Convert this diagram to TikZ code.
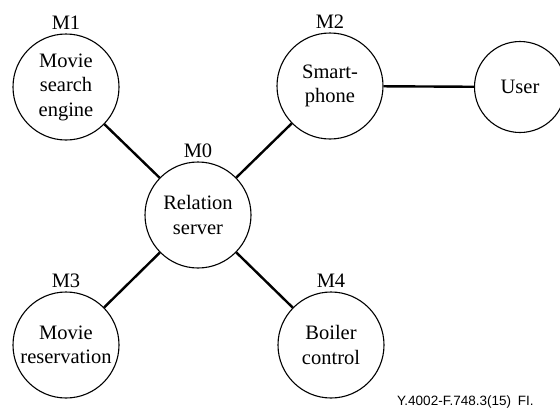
\documentclass[tikz,border=0pt]{standalone}
\usepackage{fontspec}
\setmainfont{Liberation Serif}
\newfontfamily\figfont{Liberation Sans}

\begin{document}
\begin{tikzpicture}[x=1pt, y=-1pt,
    modul/.style={draw, circle, line width=1.1pt, minimum size=106pt, inner sep=0pt,
                  align=center, font=\fontsize{20.5}{24.5}\selectfont},
    nutlabel/.style={font=\fontsize{20.5}{24.5}\selectfont},
    lien/.style={line width=2.4pt}]
    \useasboundingbox (0,0) rectangle (560,410);
    % cac module
    \node[modul, label={[nutlabel]above:M0}] (M0) at (198,215) {Relation\\server};
    \node[modul, label={[nutlabel]above:M1}] (M1) at (66,87) {Movie\\search\\engine};
    \node[modul, label={[nutlabel]above:M2}] (M2) at (330,86) {Smart-\\phone};
    \node[modul, label={[nutlabel]above:M3}] (M3) at (66,345) {Movie\\reservation};
    \node[modul, label={[nutlabel]above:M4}] (M4) at (331,345) {Boiler\\control};
    \node[modul, minimum size=91pt] (user) at (520,87) {User};
    % ket noi
    \draw[lien] (M0) -- (M1);
    \draw[lien] (M0) -- (M2);
    \draw[lien] (M0) -- (M3);
    \draw[lien] (M0) -- (M4);
    \draw[lien] (M2) -- (user);
    \node[anchor=base west, inner sep=0pt, font=\figfont\fontsize{13.5}{16}\selectfont]
        (figid) at (397,405) {Y.4002-F.748.3(15)\enspace FI.};
\end{tikzpicture}
\end{document}
